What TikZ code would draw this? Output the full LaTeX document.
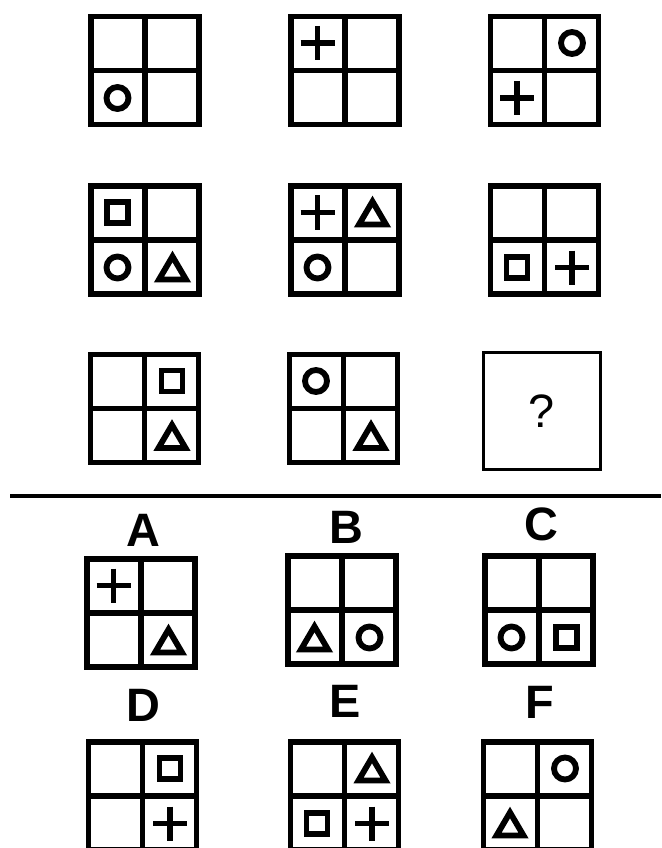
\documentclass[tikz,border=0pt]{standalone}
\usepackage{fontspec}
\setmainfont{Liberation Sans}
\usetikzlibrary{calc}

\begin{document}
\begin{tikzpicture}[
                x=0.03cm, y=-0.03cm,
                % Stile per le griglie 2x2
                griglia/.style={
                    draw,
                    line width=5pt,
                    minimum size=3.24cm,
                    inner sep=0pt,
                    outer sep=0pt
                },
                % Casella vuota con il punto interrogativo
                vuoto/.style={
                    draw,
                    line width=2.4pt,
                    minimum size=3.51cm,
                    inner sep=0pt,
                    font=\fontsize{40}{40}\selectfont
                },
                etichetta/.style={
                    inner sep=0pt,
                    font=\fontsize{40}{40}\selectfont\bfseries
                },
                tratto/.style={line width=5pt},
                % Simboli
                cerchio/.pic={\draw[tratto] (0,0) circle[radius=0.33cm];},
                quadrato/.pic={\draw[tratto] (-10.5,-10.5) rectangle (10.5,10.5);},
                croce/.pic={\draw[tratto] (-17,0) -- (17,0) (0,-17) -- (0,17);},
                triangolo/.pic={\draw[tratto] (0,-11) -- (13.5,12) -- (-13.5,12) -- cycle;}
            ]

                \useasboundingbox (0,0) rectangle (661,848);

                % ========================================================
                % 1. Matrice 3x3 (in alto)
                % ========================================================
                \node[griglia] (p11) at (145,70.5) {};
                \node[griglia] (p12) at (345,70.5) {};
                \node[griglia] (p13) at (544.5,70.5) {};

                \node[griglia] (p21) at (145,240) {};
                \node[griglia] (p22) at (345,240) {};
                \node[griglia] (p23) at (544.5,240) {};

                \node[griglia] (p31) at (144.5,408.5) {};
                \node[griglia] (p32) at (343.5,408.5) {};
                \node[vuoto] (p33) at (542,411) {?};

                % ========================================================
                % 2. Linea di separazione
                % ========================================================
                \coordinate (sep_l) at (10,496);
                \coordinate (sep_r) at (661,496);
                \draw[line width=3.8pt] (sep_l) -- (sep_r);

                % ========================================================
                % 3. Risposte A-F
                % ========================================================
                \node[etichetta] (labA) at (143,530) {A};
                \node[etichetta] (labB) at (346,527) {B};
                \node[etichetta] (labC) at (541,524) {C};
                \node[griglia] (optA) at (141,613) {};
                \node[griglia] (optB) at (342,610) {};
                \node[griglia] (optC) at (539,610) {};

                \node[etichetta] (labD) at (143,705) {D};
                \node[etichetta] (labE) at (345,701) {E};
                \node[etichetta] (labF) at (540,702) {F};
                \node[griglia] (optD) at (142.5,796) {};
                \node[griglia] (optE) at (344.5,796) {};
                \node[griglia] (optF) at (537.5,796) {};

                % Linee interne delle griglie
                \foreach \g in {p11,p12,p13,p21,p22,p23,p31,p32,optA,optB,optC,optD,optE,optF}
                    \draw[tratto] (\g.north) -- (\g.south) (\g.west) -- (\g.east);

                % ========================================================
                % 4. Simboli nelle celle
                % ========================================================
                % riga 1
                \pic at ($(p11)+(-27.5,27.5)$) {cerchio};
                \pic at ($(p12)+(-27.5,-27.5)$) {croce};
                \pic at ($(p13)+(27.5,-27.5)$) {cerchio};
                \pic at ($(p13)+(-27.5,27.5)$) {croce};

                % riga 2
                \pic at ($(p21)+(-27.5,-27.5)$) {quadrato};
                \pic at ($(p21)+(-27.5,27.5)$) {cerchio};
                \pic at ($(p21)+(27.5,27.5)$) {triangolo};
                \pic at ($(p22)+(-27.5,-27.5)$) {croce};
                \pic at ($(p22)+(27.5,-27.5)$) {triangolo};
                \pic at ($(p22)+(-27.5,27.5)$) {cerchio};
                \pic at ($(p23)+(-27.5,27.5)$) {quadrato};
                \pic at ($(p23)+(27.5,27.5)$) {croce};

                % riga 3
                \pic at ($(p31)+(27.5,-27.5)$) {quadrato};
                \pic at ($(p31)+(27.5,27.5)$) {triangolo};
                \pic at ($(p32)+(-27.5,-27.5)$) {cerchio};
                \pic at ($(p32)+(27.5,27.5)$) {triangolo};

                % risposte
                \pic at ($(optA)+(-27.5,-27.5)$) {croce};
                \pic at ($(optA)+(27.5,27.5)$) {triangolo};
                \pic at ($(optB)+(-27.5,27.5)$) {triangolo};
                \pic at ($(optB)+(27.5,27.5)$) {cerchio};
                \pic at ($(optC)+(-27.5,27.5)$) {cerchio};
                \pic at ($(optC)+(27.5,27.5)$) {quadrato};
                \pic at ($(optD)+(27.5,-27.5)$) {quadrato};
                \pic at ($(optD)+(27.5,27.5)$) {croce};
                \pic at ($(optE)+(27.5,-27.5)$) {triangolo};
                \pic at ($(optE)+(-27.5,27.5)$) {quadrato};
                \pic at ($(optE)+(27.5,27.5)$) {croce};
                \pic at ($(optF)+(27.5,-27.5)$) {cerchio};
                \pic at ($(optF)+(-27.5,27.5)$) {triangolo};

            \end{tikzpicture}
\end{document}
